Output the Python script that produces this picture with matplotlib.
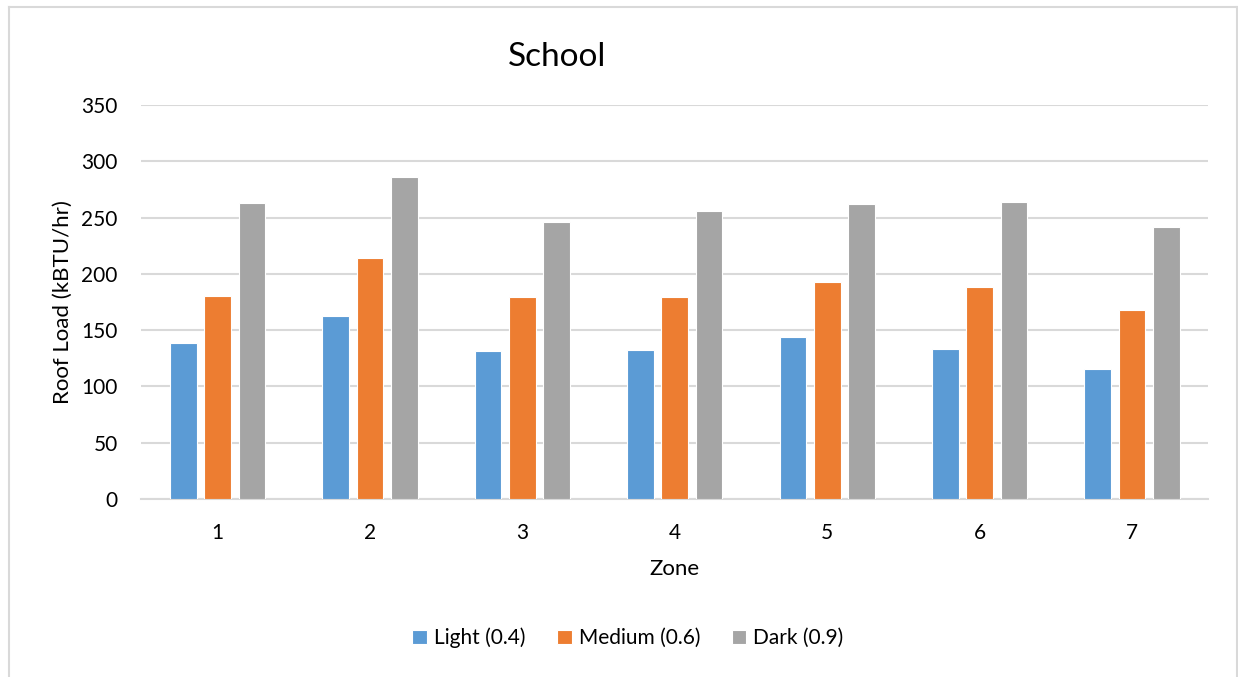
import matplotlib
matplotlib.use("Agg")
import matplotlib.pyplot as plt
import numpy as np
from matplotlib.lines import Line2D

plt.rcParams['font.family'] = ['Lato', 'DejaVu Sans']

zones = ["1", "2", "3", "4", "5", "6", "7"]
light = [138.5, 162.5, 131.5, 132.5, 143.5, 133.5, 115.5]
medium = [180.5, 214, 179, 179.5, 193, 188.5, 168]
dark = [263, 286, 246.5, 256, 262.5, 263.5, 241.5]
series_names = ["Light (0.4)", "Medium (0.6)", "Dark (0.9)"]
colors = ["#5B9BD5", "#ED7D31", "#A5A5A5"]

W, H = 1238, 677
fig = plt.figure(figsize=(W / 100, H / 100), dpi=100)
ax = fig.add_axes([141.4 / W, 1 - 499 / H, (1208.2 - 141.4) / W, (499 - 105) / H])

x = np.arange(len(zones))
width = 0.175
step = 0.225
for i, (vals, name, c) in enumerate(zip([light, medium, dark], series_names, colors)):
    ax.bar(x + (i - 1) * step, vals, width, color=c, label=name,
           edgecolor="white", linewidth=0.8, zorder=3)

ax.set_xlim(-0.5, len(zones) - 0.5)
ax.set_ylim(0, 350)
ax.set_yticks(np.arange(0, 351, 50))
ax.set_xticks(x)
ax.set_xticklabels(zones)
ax.tick_params(axis="both", length=0, labelsize=15, colors="#000000")
ax.tick_params(axis="y", pad=17)
ax.tick_params(axis="x", pad=17)
ax.grid(axis="y", color="#D9D9D9", linewidth=1.5, zorder=0)
for s in ["top", "right", "left"]:
    ax.spines[s].set_visible(False)
ax.spines["bottom"].set_color("#D9D9D9")
ax.spines["bottom"].set_linewidth(1.5)

ax.set_xlabel("Zone", fontsize=16, labelpad=12)
ax.set_ylabel("Roof Load (kBTU/hr)", fontsize=16, labelpad=6)

fig.text(557 / W, 1 - 57 / H, "School", fontsize=24, ha="center", va="center")

leg = fig.legend(loc="center", bbox_to_anchor=(628 / W, 1 - 638 / H), ncol=3,
                 frameon=False, fontsize=15, handlelength=0.7, handleheight=0.7,
                 handletextpad=0.35, columnspacing=1.5)

# chart area border
border = dict(color="#D9D9D9", linewidth=1.5, transform=fig.transFigure)
fig.add_artist(Line2D([9 / W, 1237 / W], [1 - 7 / H, 1 - 7 / H], **border))
fig.add_artist(Line2D([9 / W, 9 / W], [0, 1 - 7 / H], **border))
fig.add_artist(Line2D([1237 / W, 1237 / W], [0, 1 - 7 / H], **border))

fig.savefig("out.png", dpi=100, facecolor="white")
